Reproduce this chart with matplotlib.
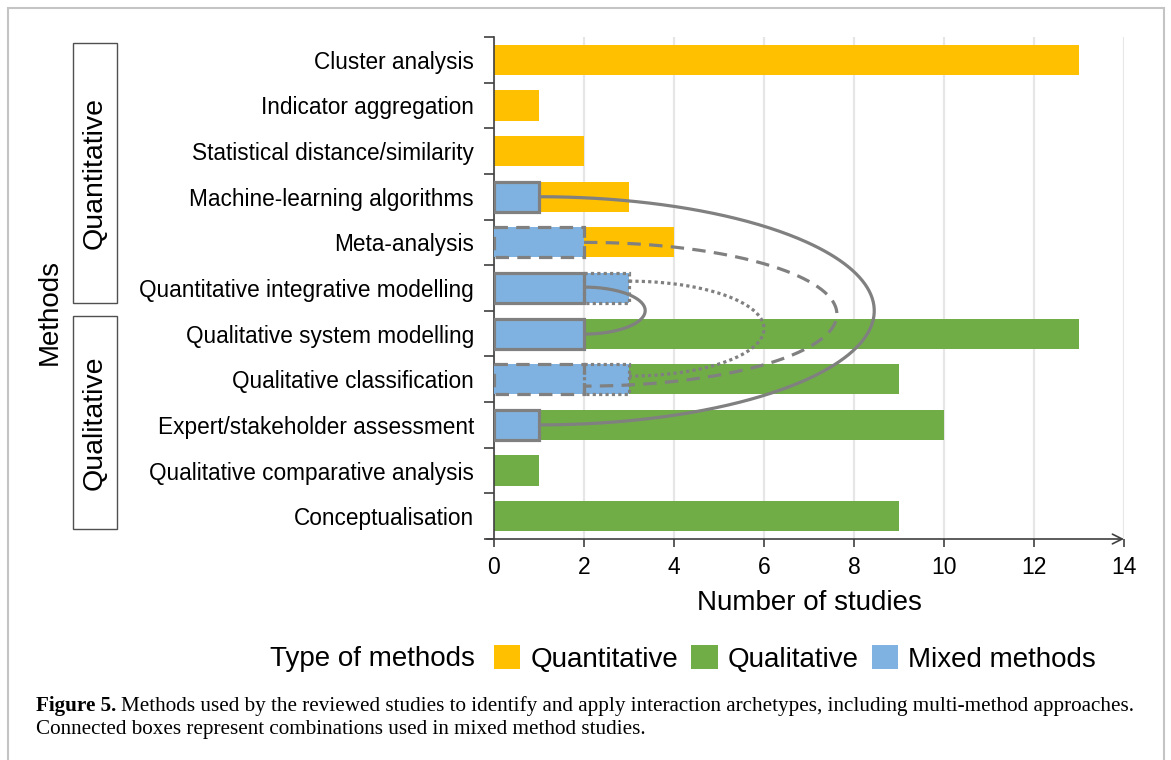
import matplotlib
matplotlib.use("Agg")
import matplotlib.pyplot as plt
import numpy as np
from matplotlib.patches import Rectangle, Patch

# ---------------- data ----------------
methods = ["Cluster analysis", "Indicator aggregation", "Statistical distance/similarity",
           "Machine-learning algorithms", "Meta-analysis", "Quantitative integrative modelling",
           "Qualitative system modelling", "Qualitative classification",
           "Expert/stakeholder assessment", "Qualitative comparative analysis",
           "Conceptualisation"]
quantitative = [13, 1, 2, 3, 4, 0, 0, 0, 0, 0, 0]
qualitative = [0, 0, 0, 0, 0, 0, 13, 9, 10, 1, 9]
mixed = [0, 0, 0, 1, 2, 3, 2, 3, 1, 0, 0]

# outlined mixed-method boxes: (method index, start, end, line style)
box_rows = [3, 4, 5, 5, 6, 7, 7, 8]
box_start = [0, 0, 0, 2, 0, 0, 2, 0]
box_end = [1, 2, 2, 3, 2, 2, 3, 1]
box_style = ["solid", "dashed", "solid", "dotted", "solid", "dashed", "dotted", "solid"]

# connectors: start x, y from, y to, farthest x reached, style
con_x = [1, 2, 3, 2]
con_y1 = [3.0, 4.0, 4.85, 4.98]
con_y2 = [8.0, 7.15, 6.93, 6.01]
con_peak = [8.45, 7.62, 6.0, 3.36]
con_style = ["solid", "dashed", "dotted", "solid"]

groups = ["Quantitative", "Qualitative"]

x_ticks = [0, 2, 4, 6, 8, 10, 12, 14]

# ---------------- style ----------------
YELLOW = "#FFC000"
GREEN = "#70AD47"
BLUE = "#7FB2E0"
GREY = "#808080"
AXC = "#404040"
plt.rcParams["font.family"] = ["Liberation Sans", "DejaVu Sans"]

W, H = 1171, 760
fig = plt.figure(figsize=(W / 100, H / 100), dpi=100)

def fx(px):
    return px / W

def fy(py):
    return 1 - py / H

ax_l, ax_r, ax_t, ax_b = 494, 1124, 37, 539
ax = fig.add_axes([fx(ax_l), fy(ax_b), fx(ax_r - ax_l), (ax_b - ax_t) / H])

n = len(methods)
y = np.arange(n)
bh = 0.66

ax.barh(y, quantitative, height=bh, color=YELLOW, zorder=2)
ax.barh(y, qualitative, height=bh, color=GREEN, zorder=2)
ax.barh(y, mixed, height=bh, color=BLUE, zorder=3)

ls_map = {"solid": "-", "dashed": (0, (4.2, 2.6)), "dotted": (0, (1, 1))}
for r, s, e, st in zip(box_rows, box_start, box_end, box_style):
    ax.add_patch(Rectangle((s, r - bh / 2), e - s, bh, fill=False, edgecolor=GREY,
                           linewidth=2.3, linestyle=ls_map[st], zorder=4, joinstyle="miter"))

t = np.linspace(-np.pi / 2, np.pi / 2, 300)
for x0, y1, y2, pk, st in zip(con_x, con_y1, con_y2, con_peak, con_style):
    yc = (y1 + y2) / 2
    b = (y2 - y1) / 2
    xs = x0 + (pk - x0) * np.cos(t)
    ys = yc + b * np.sin(t)
    ax.plot(xs, ys, color=GREY, linewidth=2.3, linestyle=ls_map[st], zorder=5,
            solid_capstyle="butt")

ax.set_xlim(0, 14)
ax.set_ylim(n - 0.5, -0.5)
ax.set_yticks(y)
ax.set_yticklabels(methods, fontsize=16.3)
ax.set_yticks(np.arange(-0.5, n, 1), minor=True)
ax.tick_params(axis="y", which="major", length=0, pad=14.4)
ax.tick_params(axis="y", which="minor", length=7, width=1.2, color=AXC)
ax.set_xticks(x_ticks)
ax.set_xticklabels([str(v) for v in x_ticks], fontsize=16.5)
ax.tick_params(axis="x", length=6, width=1.2, color=AXC, pad=6)
ax.grid(axis="x", color="#e6e6e6", linewidth=1.6, zorder=0)
ax.set_axisbelow(True)
for sp in ["top", "right", "bottom"]:
    ax.spines[sp].set_visible(False)
ax.spines["left"].set_color(AXC)
ax.spines["left"].set_linewidth(1.2)
ax.annotate("", xy=(14, n - 0.5), xytext=(-0.16, n - 0.5), xycoords="data",
            arrowprops=dict(arrowstyle="->,head_length=0.7,head_width=0.35", color=AXC,
                            lw=1.2, shrinkA=0, shrinkB=0), annotation_clip=False, zorder=6)
ax.set_xlabel("Number of studies", fontsize=20, labelpad=8)

# group boxes on the left
for g in groups:
    top = 43 if g == "Quantitative" else 316
    bot = 303 if g == "Quantitative" else 529
    fig.patches.append(Rectangle((fx(73), fy(bot)), fx(117 - 73), (bot - top) / H,
                                 transform=fig.transFigure, fill=False,
                                 edgecolor="#505050", linewidth=1.0))
    fig.text(fx(95), fy((top + bot) / 2), g, rotation=90, fontsize=20.5,
             ha="center", va="center")

fig.text(fx(50), fy(312), "Methods", rotation=90, fontsize=20, ha="center", va="center")

# legend
fig.text(fx(475), fy(659), "Type of methods", fontsize=20, ha="right", va="center")
handles = [Patch(facecolor=YELLOW, label="Quantitative"),
           Patch(facecolor=GREEN, label="Qualitative"),
           Patch(facecolor=BLUE, label="Mixed methods")]
fig.legend(handles=handles, loc="center left", bbox_to_anchor=(fx(494), fy(659)),
           ncol=3, frameon=False, fontsize=20, handlelength=0.95, handleheight=0.95,
           handletextpad=0.36, columnspacing=0.47, borderaxespad=0, borderpad=0)

# caption
cap_font = ["Liberation Serif", "DejaVu Serif"]
cap_size = 15.2
t1 = fig.text(fx(36), fy(711), "Figure 5.", fontsize=cap_size, fontweight="bold",
              family=cap_font, ha="left", va="baseline")
fig.canvas.draw()
bb = t1.get_window_extent()
fig.text((bb.x1 + 5) / W, fy(711),
         "Methods used by the reviewed studies to identify and apply interaction archetypes, including multi-method approaches.",
         fontsize=cap_size, family=cap_font, ha="left", va="baseline")
fig.text(fx(36), fy(734), "Connected boxes represent combinations used in mixed method studies.",
         fontsize=cap_size, family=cap_font, ha="left", va="baseline")

# outer frame
fig.patches.append(Rectangle((fx(8), fy(770)), fx(1164 - 8), (770 - 8) / H,
                             transform=fig.transFigure, fill=False,
                             edgecolor="#c4c4c4", linewidth=1.5, clip_on=False))

fig.savefig("out.png", dpi=100)
